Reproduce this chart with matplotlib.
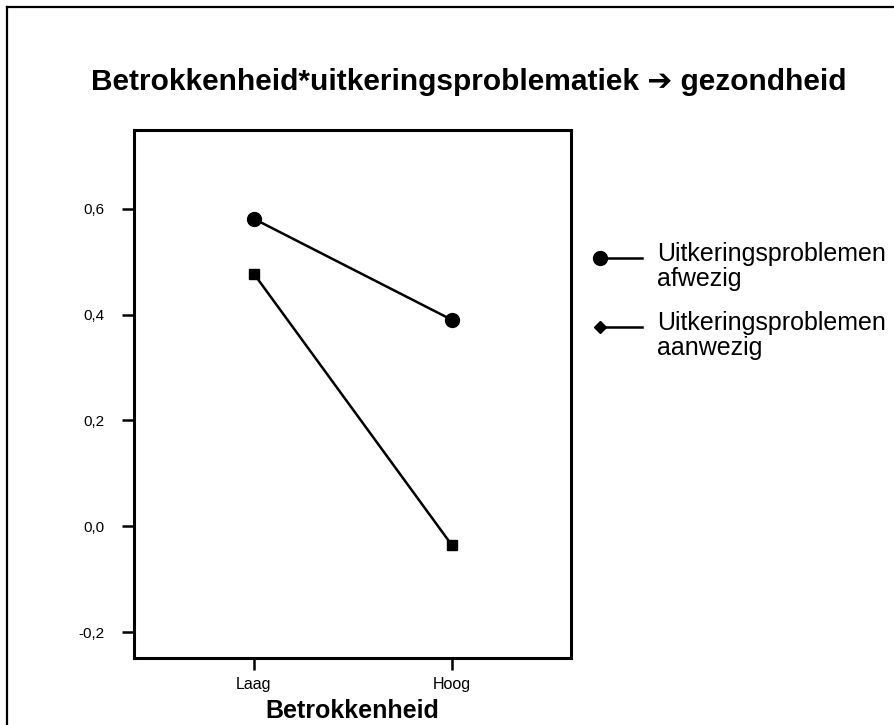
import matplotlib
matplotlib.use('Agg')
import matplotlib.pyplot as plt
from matplotlib.lines import Line2D

plt.rcParams['font.family'] = ['Liberation Sans', 'DejaVu Sans']

# Data.
categories = ['Laag', 'Hoog']
afwezig = [0.581, 0.390]
aanwezig = [0.477, -0.036]
series_labels = ['Uitkeringsproblemen\nafwezig', 'Uitkeringsproblemen\naanwezig']
yticks = [-0.2, 0.0, 0.2, 0.4, 0.6]
ytick_labels = ['-0,2', '0,0', '0,2', '0,4', '0,6']

W, H = 895, 725
fig = plt.figure(figsize=(W / 100, H / 100), dpi=100)


def px(xp, yp):
    # pixel position (from top-left) -> figure fraction
    return xp / W, 1 - yp / H


# Outer frame: only the top and left edge are inside the picture.
fig.add_artist(Line2D([7 / W, 7 / W], [0, 1 - 7 / H], transform=fig.transFigure,
                      color='black', linewidth=1.6))
fig.add_artist(Line2D([7 / W, 1], [1 - 7 / H, 1 - 7 / H], transform=fig.transFigure,
                      color='black', linewidth=1.6))

ax = fig.add_axes([134 / W, 1 - 658 / H, 437 / W, 528 / H])
x = list(range(len(categories)))
ax.plot(x, afwezig, color='black', linewidth=1.8, marker='o', markersize=10)
ax.plot(x, aanwezig, color='black', linewidth=1.8, marker='s', markersize=6.5)

ax.set_xlim(-0.606, 1.601)
ax.set_ylim(-0.249, 0.749)
ax.set_xticks(x)
ax.set_xticklabels(categories, fontsize=11.5)
ax.set_yticks(yticks)
ax.set_yticklabels(ytick_labels, fontsize=11)
ax.tick_params(direction='out', length=8.5, width=1.8)
ax.tick_params(axis='y', pad=13)
ax.tick_params(axis='x', pad=5)
for s in ax.spines.values():
    s.set_linewidth(2.2)
ax.set_xlabel('Betrokkenheid', fontsize=18, fontweight='bold')
ax.xaxis.set_label_coords(0.5, -(699 - 658) / 528)

fig.text(*px(469, 82),
         'Betrokkenheid*uitkeringsproblematiek \u2794 gezondheid',
         ha='center', va='center', fontsize=21.5, fontweight='bold')

# Legend: marker at the left end of a short line, then two-line label.
legend_rows = [258, 327]
legend_markers = [('o', 10), ('D', 6)]
for row, (mk, ms), label in zip(legend_rows, legend_markers, series_labels):
    x0, y0 = px(600, row)
    x1, _ = px(642, row)
    fig.add_artist(Line2D([x0, x1], [y0, y0], transform=fig.transFigure,
                          color='black', linewidth=1.8))
    fig.add_artist(Line2D([x0], [y0], transform=fig.transFigure, color='black',
                          marker=mk, markersize=ms, linestyle='none'))
    for i, part in enumerate(label.split('\n')):
        fig.text(*px(657, row + 3 + 25 * i), part, ha='left', va='baseline',
                 fontsize=18)

fig.savefig('out.png', dpi=100)
